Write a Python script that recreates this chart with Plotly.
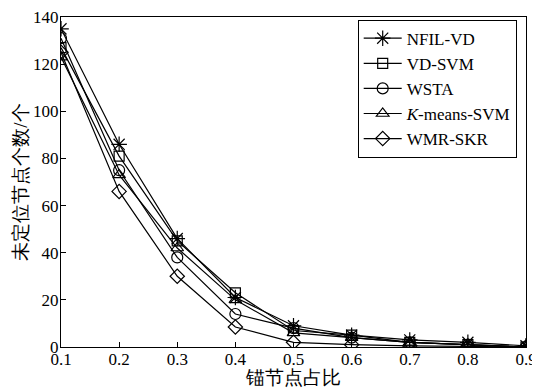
import plotly.graph_objects as go

x_vals = [0.1, 0.2, 0.3, 0.4, 0.5, 0.6, 0.7, 0.8, 0.9]
nfil_vd = [135, 86, 46, 21, 9, 5, 3, 2, 0.5]
vd_svm = [127, 81, 45, 23, 7, 5, 2, 1, 0]
wsta = [131, 75, 38, 14, 8, 4, 2, 1, 0]
kmeans_svm = [123, 73, 42, 20, 6, 4, 2, 1, 0]
wmr_skr = [125, 66, 30, 8.5, 2, 1, 0.5, 0.3, 0]
y_ticks = [0, 20, 40, 60, 80, 100, 120, 140]

series = [
    ("NFIL-VD", nfil_vd, "asterisk-open", 13),
    ("VD-SVM", vd_svm, "square-open", 10),
    ("WSTA", wsta, "circle-open", 11),
    ("<i>K</i>-means-SVM", kmeans_svm, "triangle-up-open", 11),
    ("WMR-SKR", wmr_skr, "diamond-open", 11),
]

FF = "Liberation Serif"

def fnt(size):
    return dict(family=FF, size=size, color="black")

fig = go.Figure()
for name, ys, sym, sz in series:
    fig.add_trace(go.Scatter(
        x=x_vals, y=ys, name=name, mode="lines+markers",
        line=dict(color="black", width=1.2),
        marker=dict(symbol=sym, size=sz, color="black", line=dict(color="black", width=1.2)),
    ))

# page has an 8px body margin, so the figure is sized/offset to compensate
fig.update_layout(
    template="none",
    width=532, height=380,
    margin=dict(l=53, r=14, t=9, b=41, pad=0),
    paper_bgcolor="white", plot_bgcolor="white",
    font=fnt(17),
    showlegend=True,
    legend=dict(x=0.98, y=0.992, xanchor="right", yanchor="top",
                bordercolor="black", borderwidth=1, bgcolor="white",
                font=fnt(17), tracegroupgap=0, itemwidth=38),
)
fig.update_xaxes(
    range=[0.1, 0.9], tickvals=x_vals, ticktext=[f"{v:.1f}" for v in x_vals],
    showline=True, linecolor="black", linewidth=1.2, mirror=True,
    ticks="inside", ticklen=5, tickcolor="black", showgrid=False, zeroline=False,
    automargin=False, ticklabeloverflow="allow", ticklabelstandoff=-4,
    title=dict(text="锚节点占比", font=fnt(19), standoff=0),
    tickfont=fnt(17),
)
fig.update_yaxes(
    range=[0, 140], tickvals=y_ticks,
    showline=True, linecolor="black", linewidth=1.2, mirror=True,
    ticks="inside", ticklen=5, tickcolor="black", showgrid=False, zeroline=False,
    automargin=False, ticklabeloverflow="allow", ticklabelstandoff=-2,
    title=dict(text="未定位节点个数/个", font=fnt(19), standoff=0),
    tickfont=fnt(17),
)

fig.write_html("out.html")
